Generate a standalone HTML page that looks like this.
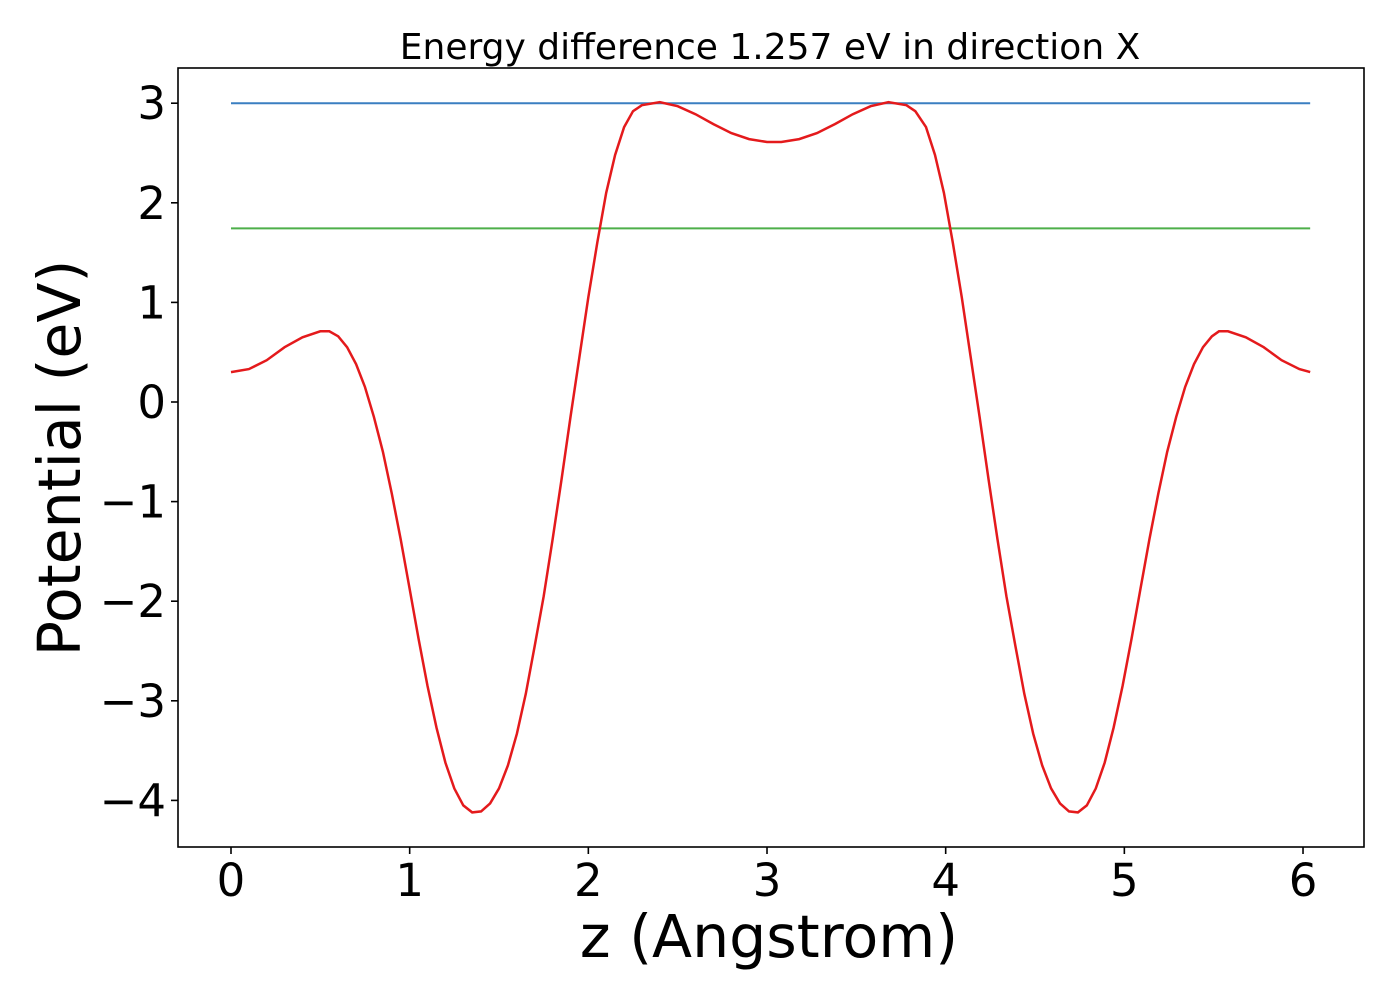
<!DOCTYPE html>
<html><head><meta charset="utf-8"><style>
html,body{margin:0;padding:0;background:#fff;}
svg text{font-family:"DejaVu Sans","Liberation Sans",sans-serif;fill:#000;}
</style></head><body>
<svg id="chart" width="1400" height="1000" xmlns="http://www.w3.org/2000/svg">
<text x="770" y="59" font-size="36" text-anchor="middle">Energy difference 1.257 eV in direction X</text>
<g id="marks"></g>
<rect x="178" y="68" width="1186" height="779" fill="none" stroke="#000" stroke-width="1.6"/>
<g id="axes"></g>
<text x="769" y="957" font-size="58.5" text-anchor="middle">z (Angstrom)</text>
<text transform="translate(80,458) rotate(-90)" font-size="58.5" text-anchor="middle">Potential (eV)</text>
</svg>
<script>
const zValues=[0,0.1,0.2,0.3,0.4,0.5,0.55,0.6,0.65,0.7,0.75,0.8,0.85,0.9,0.95,1.0,1.05,1.1,1.15,1.2,1.25,1.3,1.35,1.4,1.45,1.5,1.55,1.6,1.65,1.7,1.75,1.8,1.85,1.9,1.95,2.0,2.05,2.1,2.15,2.2,2.25,2.3,2.4,2.5,2.6,2.7,2.8,2.9,3.0,3.04,3.08,3.18,3.28,3.38,3.48,3.58,3.68,3.78,3.83,3.89,3.94,3.99,4.04,4.09,4.14,4.19,4.24,4.29,4.34,4.39,4.44,4.49,4.54,4.59,4.64,4.69,4.74,4.79,4.84,4.89,4.94,4.99,5.04,5.09,5.14,5.19,5.24,5.29,5.34,5.39,5.44,5.49,5.53,5.58,5.68,5.78,5.88,5.98,6.04];
const potentialValues=[0.30,0.33,0.42,0.55,0.65,0.71,0.71,0.66,0.55,0.38,0.15,-0.15,-0.50,-0.92,-1.38,-1.88,-2.38,-2.85,-3.27,-3.62,-3.88,-4.05,-4.12,-4.11,-4.03,-3.88,-3.65,-3.33,-2.93,-2.45,-1.95,-1.38,-0.78,-0.15,0.45,1.05,1.60,2.10,2.48,2.76,2.92,2.98,3.01,2.97,2.89,2.79,2.70,2.64,2.61,2.61,2.61,2.64,2.70,2.79,2.89,2.97,3.01,2.98,2.92,2.76,2.48,2.10,1.60,1.05,0.45,-0.15,-0.78,-1.38,-1.95,-2.45,-2.93,-3.33,-3.65,-3.88,-4.03,-4.11,-4.12,-4.05,-3.88,-3.62,-3.27,-2.85,-2.38,-1.88,-1.38,-0.92,-0.50,-0.15,0.15,0.38,0.55,0.66,0.71,0.71,0.65,0.55,0.42,0.33,0.30];
const levelValues=[3.0,1.743];
const levelNames=['barrier-max-line','energy-level-line'];
const levelColors=['#3a7fc1','#4daf4a'];
const xTicks=[0,1,2,3,4,5,6];
const yTicks=[3,2,1,0,-1,-2,-3,-4];
const xs=z=>231+z*178.67;
const ys=v=>402-v*99.6;
const NS='http://www.w3.org/2000/svg';
const marks=document.getElementById('marks'),axes=document.getElementById('axes');
levelValues.forEach((v,i)=>{
 const l=document.createElementNS(NS,'line');
 
 
 l.setAttribute('x1',xs(0));l.setAttribute('x2',xs(zValues[zValues.length-1]));
 l.setAttribute('y1',ys(v));l.setAttribute('y2',ys(v));
 l.setAttribute('stroke',levelColors[i]);l.setAttribute('stroke-width','2');
 marks.appendChild(l);
});
const p=document.createElementNS(NS,'path');


p.setAttribute('d',zValues.map((z,i)=>(i?'L':'M')+xs(z).toFixed(1)+','+ys(potentialValues[i]).toFixed(1)).join(''));
p.setAttribute('fill','none');p.setAttribute('stroke','#e41a1c');p.setAttribute('stroke-width','2.5');
marks.appendChild(p);
const fmt=v=>v<0?'\u2212'+(-v):String(v);
xTicks.forEach(t=>{
 const l=document.createElementNS(NS,'line');
 
 
 l.setAttribute('x1',xs(t));l.setAttribute('x2',xs(t));l.setAttribute('y1',847);l.setAttribute('y2',854);l.setAttribute('stroke','#000');l.setAttribute('stroke-width','1.6');
 axes.appendChild(l);
 const tx=document.createElementNS(NS,'text');
 
 
 tx.setAttribute('x',xs(t));tx.setAttribute('y',896);tx.setAttribute('font-size','45');tx.setAttribute('text-anchor','middle');
 tx.textContent=fmt(t);axes.appendChild(tx);
});
yTicks.forEach(t=>{
 const l=document.createElementNS(NS,'line');
 
 
 l.setAttribute('x1',171);l.setAttribute('x2',178);l.setAttribute('y1',ys(t));l.setAttribute('y2',ys(t));l.setAttribute('stroke','#000');l.setAttribute('stroke-width','1.6');
 axes.appendChild(l);
 const tx=document.createElementNS(NS,'text');
 
 
 tx.setAttribute('x',166);tx.setAttribute('y',ys(t)+16);tx.setAttribute('font-size','45');tx.setAttribute('text-anchor','end');
 tx.textContent=fmt(t);axes.appendChild(tx);
});
</script>
</body></html>
